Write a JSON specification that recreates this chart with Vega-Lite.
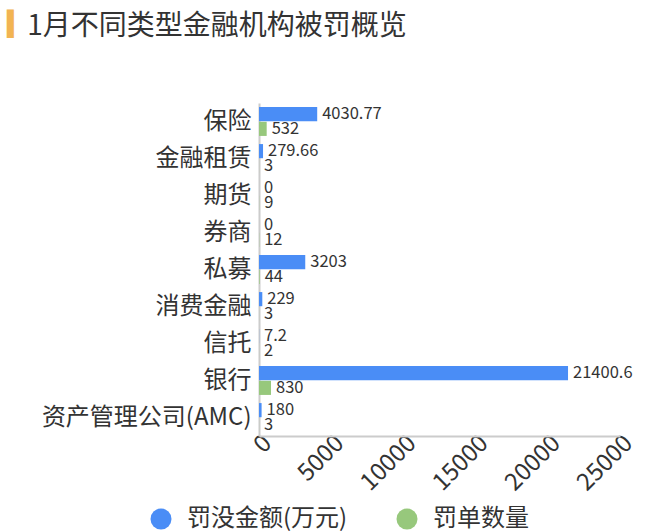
{
  "$schema": "https://vega.github.io/schema/vega-lite/v6.json",
  "autosize": "none",
  "padding": {"left": 259, "top": 103, "right": 40, "bottom": 96},
  "width": 361,
  "height": 333,
  "title": {
    "text": "\u258d",
    "subtitle": "\u200b\u2002\u00a01月不同类型金融机构被罚概览",
    "anchor": "start",
    "frame": "group",
    "dx": -252,
    "offset": 62,
    "color": "#F2B452",
    "fontSize": 24,
    "fontWeight": "normal",
    "subtitleColor": "#333333",
    "subtitleFontSize": 28,
    "subtitlePadding": -24,
    "font": "DejaVu Sans",
    "subtitleFont": "Noto Sans CJK SC"
  },
  "data": {
    "values": [
      {"category": "保险", "series": "罚没金额(万元)", "value": 4030.77},
      {"category": "保险", "series": "罚单数量", "value": 532},
      {"category": "金融租赁", "series": "罚没金额(万元)", "value": 279.66},
      {"category": "金融租赁", "series": "罚单数量", "value": 3},
      {"category": "期货", "series": "罚没金额(万元)", "value": 0},
      {"category": "期货", "series": "罚单数量", "value": 9},
      {"category": "券商", "series": "罚没金额(万元)", "value": 0},
      {"category": "券商", "series": "罚单数量", "value": 12},
      {"category": "私募", "series": "罚没金额(万元)", "value": 3203},
      {"category": "私募", "series": "罚单数量", "value": 44},
      {"category": "消费金融", "series": "罚没金额(万元)", "value": 229},
      {"category": "消费金融", "series": "罚单数量", "value": 3},
      {"category": "信托", "series": "罚没金额(万元)", "value": 7.2},
      {"category": "信托", "series": "罚单数量", "value": 2},
      {"category": "银行", "series": "罚没金额(万元)", "value": 21400.6},
      {"category": "银行", "series": "罚单数量", "value": 830},
      {"category": "资产管理公司(AMC)", "series": "罚没金额(万元)", "value": 180},
      {"category": "资产管理公司(AMC)", "series": "罚单数量", "value": 3}
    ]
  },
  "encoding": {
    "y": {
      "field": "category",
      "type": "nominal",
      "sort": null,
      "scale": {"paddingInner": 0.22, "paddingOuter": 0.11},
      "axis": {
        "title": null,
        "ticks": false,
        "labelFontSize": 24,
        "labelColor": "#333333",
        "labelPadding": 8,
        "labelLimit": 300,
        "domainColor": "#cccccc",
        "domainWidth": 2
      }
    },
    "yOffset": {
      "field": "series",
      "type": "nominal",
      "sort": ["罚没金额(万元)", "罚单数量"],
      "scale": {"paddingInner": 0.04}
    },
    "x": {
      "field": "value",
      "type": "quantitative",
      "scale": {"domain": [0, 25000]},
      "axis": {
        "title": null,
        "grid": false,
        "ticks": false,
        "values": [0, 5000, 10000, 15000, 20000, 25000],
        "format": "d",
        "labelAngle": -45,
        "labelAlign": "right",
        "labelBaseline": "top",
        "labelFontSize": 24,
        "labelColor": "#333333",
        "labelPadding": -5,
        "domainColor": "#cccccc",
        "domainWidth": 2
      }
    }
  },
  "layer": [
    {
      "mark": {"type": "bar"},
      "encoding": {
        "color": {
          "field": "series",
          "type": "nominal",
          "scale": {
            "domain": ["罚没金额(万元)", "罚单数量"],
            "range": ["#4A8DF6", "#97C87C"]
          },
          "legend": {
            "title": null,
            "orient": "none",
            "legendX": -110,
            "legendY": 404,
            "direction": "horizontal",
            "symbolType": "circle",
            "symbolSize": 440,
            "symbolStrokeWidth": 0,
            "labelFontSize": 24,
            "labelColor": "#333333",
            "labelOffset": 14,
            "labelLimit": 400,
            "columnPadding": 47
          }
        }
      }
    },
    {
      "mark": {
        "type": "text",
        "align": "left",
        "baseline": "middle",
        "dx": 5,
        "fontSize": 16.5,
        "color": "#333333"
      },
      "encoding": {
        "text": {"field": "value", "type": "quantitative"}
      }
    }
  ],
  "config": {
    "font": "Noto Sans CJK SC",
    "view": {"stroke": null},
    "background": "white"
  }
}
